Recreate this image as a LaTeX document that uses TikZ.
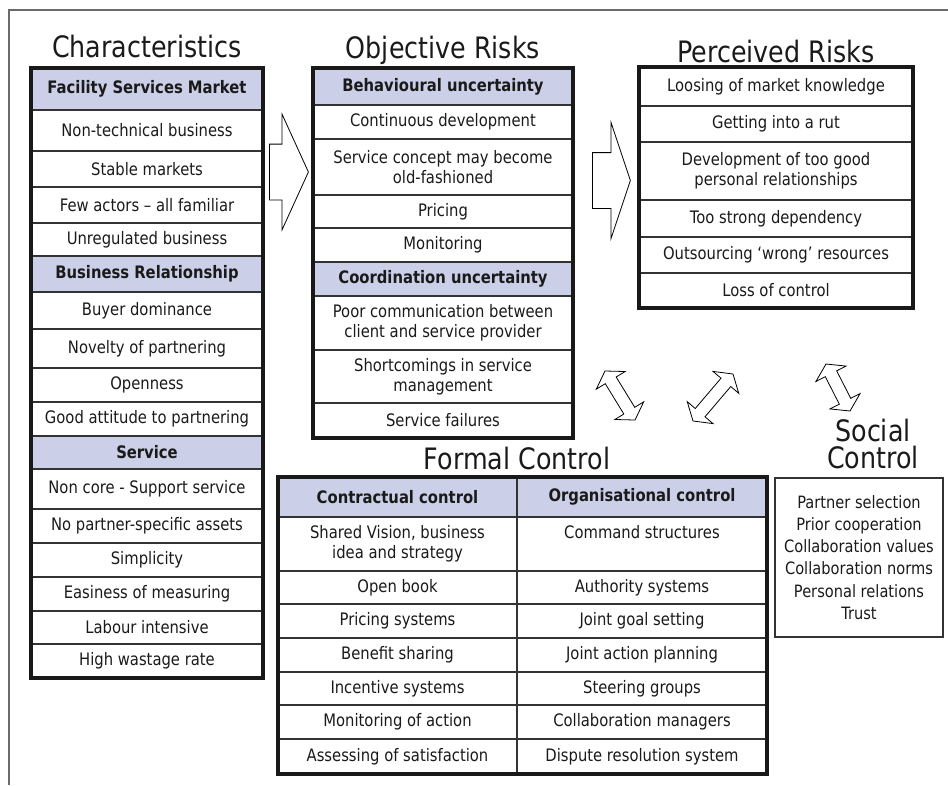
\documentclass[tikz,border=0pt]{standalone}
\usepackage{fontspec}
\setmainfont{DejaVu Sans}[FakeStretch=0.86]
\usepackage{tikz}
\usetikzlibrary{shapes.arrows, positioning}
\definecolor{HeadBlue}{HTML}{CBD0E8}
\definecolor{InkGray}{HTML}{1A1A1A}
\definecolor{RuleGray}{HTML}{333333}
\definecolor{FrameGray}{HTML}{6A6A6A}
\tikzset{
  cellbox/.style={rectangle, draw=RuleGray, line width=1.4pt, fill=white, text=InkGray, outer sep=0pt, inner sep=2pt, align=center, font=\fontsize{17.2}{20}\selectfont},
  headbox/.style={cellbox, fill=HeadBlue, font=\fontsize{17.2}{20}\selectfont\bfseries},
  tablerim/.style={draw=black!90, line width=4.5pt},
  titletext/.style={text=InkGray, inner sep=0pt, text depth=0pt, align=center, font=\fontsize{29.5}{27}\selectfont},
  bigarrow/.style={single arrow, draw=black, line width=0.8pt, fill=white, inner xsep=0pt, inner ysep=27.5pt, single arrow head extend=30pt},
  twoarrow/.style={double arrow, draw=black, line width=0.8pt, fill=white, inner xsep=0pt, inner ysep=6pt, double arrow head extend=10.5pt, double arrow tip angle=114},
  socialbox/.style={rectangle, draw=RuleGray, line width=1.5pt, text=InkGray, align=center, minimum width=168pt, minimum height=159pt, font=\fontsize{17}{22.2}\selectfont},
  frameline/.style={draw=FrameGray, line width=2pt}
}

\begin{document}
\begin{tikzpicture}[x=1pt, y=-1pt]
  \useasboundingbox (0,0) rectangle (948,785);
  \draw[frameline] (9,785) -- (9,10) -- (948,10);

  % characteristics
  \node[headbox, minimum width=232pt, minimum height=42pt, anchor=north] (ch1) at (147,68) {Facility Services Market};
  \foreach \s/\h/\t [count=\i from 2] in {cellbox/41/Non-technical business, cellbox/36/Stable markets, cellbox/36/Few actors – all familiar, cellbox/33/Unregulated business, headbox/36/Business Relationship, cellbox/37/Buyer dominance, cellbox/39/Novelty of partnering, cellbox/34/Openness, cellbox/34/Good attitude to partnering, headbox/33/Service, cellbox/40/Non core - Support service, cellbox/34/No partner-specific assets, cellbox/34/Simplicity, cellbox/34/Easiness of measuring, cellbox/33/Labour intensive, cellbox/34/High wastage rate}{
    \pgfmathtruncatemacro{\j}{\i-1}
    \node[\s, minimum width=232pt, minimum height=\h pt, below=0pt of ch\j] (ch\i) {\t};
  }
  \draw[tablerim] (ch1.north west) rectangle (ch17.south east);
  \node[titletext, above=10pt of ch1] (chT) {Characteristics};

  % objective risks
  \node[headbox, minimum width=260pt, minimum height=37pt, anchor=north] (ob1) at (443,68) {Behavioural uncertainty};
  \foreach \s/\h/\t [count=\i from 2] in {cellbox/34/Continuous development, cellbox/56/Service concept may become\\old-fashioned, cellbox/33/Pricing, cellbox/34/Monitoring, headbox/34/Coordination uncertainty, cellbox/54/Poor communication between\\client and service provider, cellbox/53/Shortcomings in service\\management, cellbox/35/Service failures}{
    \pgfmathtruncatemacro{\j}{\i-1}
    \node[\s, minimum width=260pt, minimum height=\h pt, below=0pt of ob\j] (ob\i) {\t};
  }
  \draw[tablerim] (ob1.north west) rectangle (ob9.south east);
  \node[titletext, above=9pt of ob1] (obT) {Objective Risks};

  % perceived risks
  \node[cellbox, minimum width=274pt, minimum height=39pt, anchor=north] (pr1) at (776,67) {Loosing of market knowledge};
  \foreach \h/\t [count=\i from 2] in {36/Getting into a rut, 58/Development of too good\\personal relationships, 37/Too strong dependency, 36/Outsourcing ‘wrong’ resources, 35/Loss of control}{
    \pgfmathtruncatemacro{\j}{\i-1}
    \node[cellbox, minimum width=274pt, minimum height=\h pt, below=0pt of pr\j] (pr\i) {\t};
  }
  \draw[tablerim] (pr1.north west) rectangle (pr6.south east);
  \node[titletext, above=4pt of pr1] (prT) {Perceived Risks};

  % arrows between the risk tables
  \node[bigarrow, minimum height=39pt, single arrow tip angle=131, anchor=tail] (ar1) at (269,172) {};
  \node[bigarrow, minimum height=38pt, single arrow tip angle=143, anchor=tail] (ar2) at (592,180.5) {};

  % formal control
  \node[headbox, minimum width=239pt, minimum height=40pt, anchor=north west] (fl1) at (278,477) {Contractual control};
  \node[headbox, minimum width=250pt, minimum height=40pt, right=0pt of fl1] (fr1) {Organisational control};
  \foreach \h/\l/\r [count=\i from 2] in {54/{Shared Vision, business\\idea and strategy}/{Command structures\\\phantom{g}}, 33/Open book/Authority systems, 34/Pricing systems/Joint goal setting, 34/Benefit sharing/Joint action planning, 33/Incentive systems/Steering groups, 34/Monitoring of action/Collaboration managers, 35/Assessing of satisfaction/Dispute resolution system}{
    \pgfmathtruncatemacro{\j}{\i-1}
    \node[cellbox, minimum width=239pt, minimum height=\h pt, below=0pt of fl\j] (fl\i) {\l};
    \node[cellbox, minimum width=250pt, minimum height=\h pt, right=0pt of fl\i] (fr\i) {\r};
  }
  \draw[tablerim] (fl1.north west) rectangle (fr8.south east);
  \node[titletext, above=7pt of fl1.north east] (fcT) {Formal Control};

  % social control
  \node[socialbox] (sc) at (859,557.5) {Partner selection\\Prior cooperation\\Collaboration values\\Collaboration norms\\Personal relations\\Trust};
  \node[titletext, above=9pt of sc, xshift=14pt] (scT) {Social\\Control};

  % interplay arrows
  \node[twoarrow, minimum height=57.5pt, rotate=-58.5] (da1) at (620,395.5) {};
  \node[twoarrow, minimum height=61.7pt, rotate=49.6] (da2) at (713,397.5) {};
  \node[twoarrow, minimum height=52.8pt, rotate=-62.9] (da3) at (838,387.5) {};
\end{tikzpicture}
\end{document}
